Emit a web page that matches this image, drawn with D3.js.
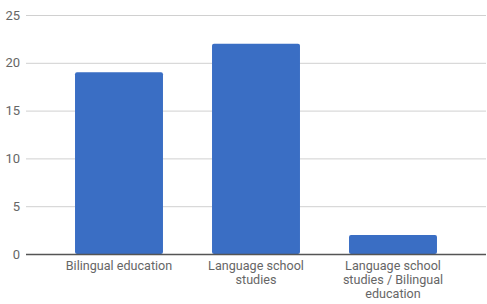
<html>
<head>
  <meta charset="utf-8" />
  <script src="https://cdnjs.cloudflare.com/ajax/libs/d3/7.8.5/d3.min.js"></script>
  <style>
    body { margin: 0; background: #fff; }
    text { font-family: Roboto, sans-serif; }
  </style>
</head>
<body>
  <svg width="487" height="304"></svg>
  <script>
    var categories = ["Bilingual education", "Language school studies", "Language school studies / Bilingual education"];
    var counts = [19, 22, 2];
    var yTicks = [0, 5, 10, 15, 20, 25];

    var svg = d3.select("svg");

    var xScale = d3.scaleBand().domain(categories).range([50.5, 461.5])
                   .paddingInner(0.358).paddingOuter(0.179);
    var yScale = d3.scaleLinear().domain([0, 25]).range([254, 15]);

    // gridlines + y labels
    var yAxis = d3.axisLeft(yScale).tickValues(yTicks).tickSize(-460).tickPadding(6);
    var yG = svg.append("g").attr("transform", "translate(26,0)").call(yAxis);
    yG.select(".domain").remove();
    yG.selectAll(".tick line").attr("stroke", "#d0d0d0");
    yG.selectAll(".tick text").attr("fill", "#666").attr("font-size", 13);

    // bars
    svg.selectAll("rect.bar")
      .data(counts).enter()
      .append("rect")
        .attr("class", "bar")
        .attr("x", (d, i) => xScale(categories[i]))
        .attr("width", xScale.bandwidth())
        .attr("y", d => yScale(d))
        .attr("height", d => yScale(0) - yScale(d))
        .attr("rx", 2)
        .attr("fill", "#3a6ec4");

    // baseline
    svg.append("line")
      .attr("x1", 26).attr("x2", 486)
      .attr("y1", yScale(0) + 0.5).attr("y2", yScale(0) + 0.5)
      .attr("stroke", "#555").attr("stroke-width", 1.5);

    // x labels
    var xAxis = d3.axisBottom(xScale).tickSize(0).tickPadding(7);
    var xG = svg.append("g").attr("transform", "translate(0," + yScale(0) + ")").call(xAxis);
    xG.select(".domain").remove();
    xG.selectAll(".tick text").attr("fill", "#666").attr("font-size", 12.6).call(wrap, 116);

    function wrap(texts, width) {
      texts.each(function() {
        var text = d3.select(this);
        var words = text.text().split(/\s+/);
        var y = text.attr("y");
        var dy = parseFloat(text.attr("dy"));
        text.text(null);
        var line = [];
        var lineNo = 0;
        var tspan = text.append("tspan").attr("x", 0).attr("y", y).attr("dy", dy + "em");
        words.forEach(function(w) {
          line.push(w);
          tspan.text(line.join(" "));
          if (tspan.node().getComputedTextLength() > width && line.length > 1) {
            line.pop();
            tspan.text(line.join(" "));
            line = [w];
            lineNo++;
            tspan = text.append("tspan").attr("x", 0).attr("y", y)
              .attr("dy", (lineNo * 1.1 + dy) + "em").text(w);
          }
        });
      });
    }
  </script>
</body>
</html>
